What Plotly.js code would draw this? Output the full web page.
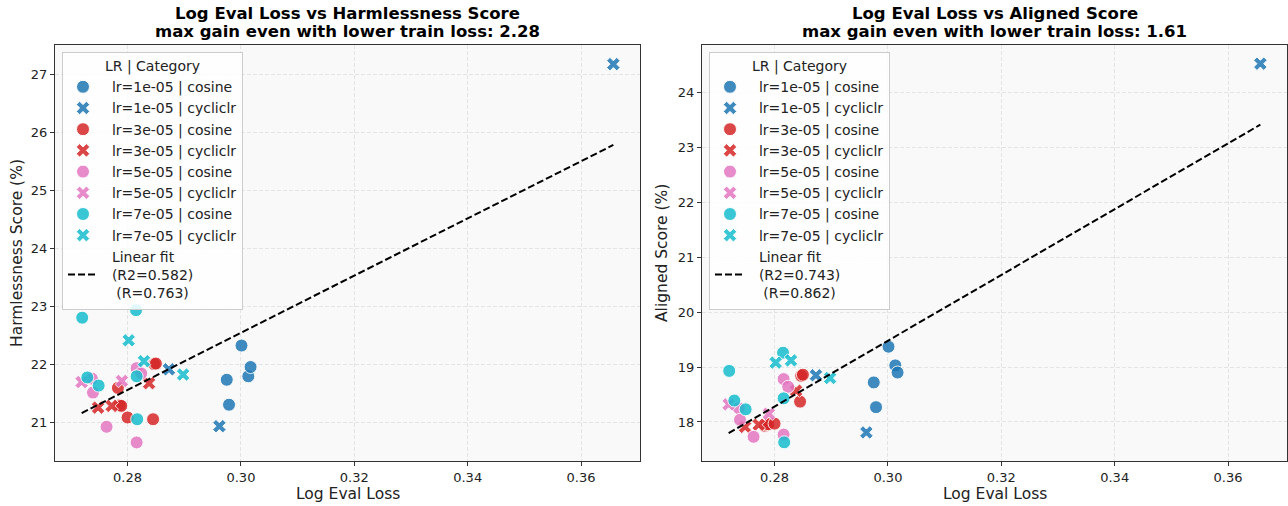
<!DOCTYPE html>
<html>
<head>
<meta charset="utf-8">
<script src="https://cdn.plot.ly/plotly-3.0.1.min.js"></script>
<style>html,body{margin:0;padding:0;background:#fff;}#chart{width:1288px;height:506px;}</style>
</head>
<body>
<div id="chart"></div>
<script>
// ---- data ----
const groupNames = ['lr=1e-05 | cosine','lr=1e-05 | cycliclr','lr=3e-05 | cosine','lr=3e-05 | cycliclr',
                    'lr=5e-05 | cosine','lr=5e-05 | cycliclr','lr=7e-05 | cosine','lr=7e-05 | cycliclr'];
const groupColors = ['rgb(31,119,180)','rgb(31,119,180)','rgb(214,39,40)','rgb(214,39,40)',
                     'rgb(227,119,194)','rgb(227,119,194)','rgb(23,190,207)','rgb(23,190,207)'];
const groupSymbols = ['circle','x','circle','x','circle','x','circle','x'];

const lossLr1Cos   = [0.3001, 0.3013, 0.3017, 0.2975, 0.2979];
const harmLr1Cos   = [22.32, 21.79, 21.95, 21.73, 21.30];
const alignLr1Cos  = [19.37, 19.03, 18.90, 18.72, 18.27];

const lossLr1Cyc   = [0.2962, 0.2873, 0.3657];
const harmLr1Cyc   = [20.93, 21.91, 27.17];
const alignLr1Cyc  = [17.81, 18.85, 24.52];

const lossLr3Cos   = [0.2847, 0.2850, 0.2783, 0.2786, 0.2789, 0.2800, 0.2845];
const harmLr3Cos   = [22.00, 22.01, 21.59, 21.29, 21.28, 21.08, 21.05];
const alignLr3Cos  = [18.84, 18.86, 17.93, 17.95, 17.96, 17.97, 18.37];

const lossLr3Cyc   = [0.2748, 0.2772, 0.2838];
const harmLr3Cyc   = [21.25, 21.28, 21.67];
const alignLr3Cyc  = [17.91, 17.95, 18.57];

const lossLr5Cos   = [0.2737, 0.2739, 0.2763, 0.2816, 0.2816, 0.2824];
const harmLr5Cos   = [21.75, 21.51, 20.92, 21.93, 20.65, 21.84];
const alignLr5Cos  = [18.25, 18.04, 17.73, 18.78, 17.77, 18.64];

const lossLr5Cyc   = [0.2719, 0.2790];
const harmLr5Cyc   = [21.69, 21.71];
const alignLr5Cyc  = [18.32, 18.15];

const lossLr7Cos   = [0.2720, 0.2729, 0.2749, 0.2815, 0.2816, 0.2817];
const harmLr7Cos   = [22.80, 21.77, 21.63, 22.93, 21.79, 21.05];
const alignLr7Cos  = [18.93, 18.39, 18.23, 19.26, 18.43, 17.63];

const lossLr7Cyc   = [0.2802, 0.2829, 0.2898];
const harmLr7Cyc   = [22.41, 22.05, 21.82];
const alignLr7Cyc  = [19.08, 19.12, 18.80];

const xTicks = [0.28, 0.30, 0.32, 0.34, 0.36];
const fitLabels = [['Linear fit','(R2=0.582)',' (R=0.763)'], ['Linear fit','(R2=0.743)',' (R=0.862)']];
const titles = [['Log Eval Loss vs Harmlessness Score','max gain even with lower train loss: 2.28'],
                ['Log Eval Loss vs Aligned Score','max gain even with lower train loss: 1.61']];
const yTitles = ['Harmlessness Score (%)','Aligned Score (%)'];
const xTitle = 'Log Eval Loss';
const legendTitle = 'LR | Category';

const lossGroups  = [lossLr1Cos, lossLr1Cyc, lossLr3Cos, lossLr3Cyc, lossLr5Cos, lossLr5Cyc, lossLr7Cos, lossLr7Cyc];
const harmGroups  = [harmLr1Cos, harmLr1Cyc, harmLr3Cos, harmLr3Cyc, harmLr5Cos, harmLr5Cyc, harmLr7Cos, harmLr7Cyc];
const alignGroups = [alignLr1Cos, alignLr1Cyc, alignLr3Cos, alignLr3Cyc, alignLr5Cos, alignLr5Cyc, alignLr7Cos, alignLr7Cyc];

// ---- build ----
const W = 1288, H = 506;
const FONT = 'DejaVu Sans, sans-serif';
const PAD = '\u00a0\u00a0';
function px(x){return x / W;}
function py(y){return 1 - y / H;}
function nb(s){return s.replace(/ /g, '\u00a0');}

function fit(xs, ys){
  const n = xs.length;
  let mx = 0, my = 0;
  for (let i=0;i<n;i++){mx+=xs[i];my+=ys[i];}
  mx/=n; my/=n;
  let sxy=0, sxx=0;
  for (let i=0;i<n;i++){sxy+=(xs[i]-mx)*(ys[i]-my); sxx+=(xs[i]-mx)*(xs[i]-mx);}
  const b = sxy/sxx, a = my - b*mx;
  const x0 = Math.min(...xs), x1 = Math.max(...xs);
  return {x:[x0,x1], y:[a+b*x0, a+b*x1]};
}

const traces = [];
[harmGroups, alignGroups].forEach((scoreGroups, p) => {
  const xa = p === 0 ? 'x' : 'x2';
  const ya = p === 0 ? 'y' : 'y2';
  const lg = p === 0 ? 'legend' : 'legend2';
  let allX = [], allY = [];
  groupNames.forEach((name, g) => {
    allX = allX.concat(lossGroups[g]);
    allY = allY.concat(scoreGroups[g]);
    traces.push({
      type:'scatter', mode:'markers', x: lossGroups[g], y: scoreGroups[g],
      xaxis: xa, yaxis: ya, legend: lg, name: PAD + nb(name),
      marker: {symbol: groupSymbols[g], color: groupColors[g], opacity: 0.85,
               size: groupSymbols[g] === 'x' ? 12 : 13, line:{color:'white', width:1}},
      hoverinfo:'skip'
    });
  });
  const f = fit(allX, allY);
  traces.push({
    type:'scatter', mode:'lines', x: f.x, y: f.y, xaxis: xa, yaxis: ya, legend: lg,
    name: fitLabels[p].map(s => PAD + nb(s)).join('<br>'),
    line:{color:'black', width:2, dash:'7px,3px'}, hoverinfo:'skip'
  });
});

const axisCommon = {
  showline:true, mirror:true, linecolor:'#333', linewidth:1.2,
  ticks:'outside', ticklen:4, tickwidth:1, tickcolor:'#333',
  showgrid:true, gridcolor:'#dedede', gridwidth:0.8, griddash:'4px,2px',
  zeroline:false, tickfont:{family:FONT, size:13, color:'#222'}, automargin:false
};

const xl = [55, 640], xr = [702, 1287], yd = [py(461), py(45)];

function legendBox(xPix){
  return {x:px(xPix), y:py(52), xanchor:'left', yanchor:'top', bgcolor:'rgba(255,255,255,0.85)',
          bordercolor:'#cccccc', borderwidth:1, font:{family:FONT,size:14,color:'#222'},
          title:{text:legendTitle, side:'top center', font:{family:FONT,size:14,color:'#222'}}};
}

const layout = {
  width: W, height: H,
  margin:{l:0,r:0,t:0,b:0},
  paper_bgcolor:'white', plot_bgcolor:'#f9f9f9',
  font:{family:FONT, size:14, color:'#222'},
  showlegend:true,
  xaxis: Object.assign({}, axisCommon, {domain:[px(xl[0]),px(xl[1])], range:[0.2672,0.3704], tickvals:xTicks, tickformat:'.2f', anchor:'y'}),
  yaxis: Object.assign({}, axisCommon, {domain:yd, range:[20.33,27.5], dtick:1, anchor:'x'}),
  xaxis2: Object.assign({}, axisCommon, {domain:[px(xr[0]),px(xr[1])], range:[0.2672,0.3704], tickvals:xTicks, tickformat:'.2f', anchor:'y2'}),
  yaxis2: Object.assign({}, axisCommon, {domain:yd, range:[17.29,24.86], dtick:1, anchor:'x2'}),
  legend: legendBox(62),
  legend2: legendBox(709),
  annotations: []
};

const centers = [(xl[0]+xl[1])/2, (xr[0]+xr[1])/2];
centers.forEach((cx, p) => {
  layout.annotations.push({xref:'paper', yref:'paper', x:px(cx), y:py(14), xanchor:'center', yanchor:'middle',
    text:'<b>'+titles[p][0]+'</b>', showarrow:false, font:{family:FONT, size:16.5, color:'#000'}});
  layout.annotations.push({xref:'paper', yref:'paper', x:px(cx), y:py(32), xanchor:'center', yanchor:'middle',
    text:'<b>'+titles[p][1]+'</b>', showarrow:false, font:{family:FONT, size:16.5, color:'#000'}});
  layout.annotations.push({xref:'paper', yref:'paper', x:px(cx), y:py(494), xanchor:'center', yanchor:'middle',
    text:xTitle, showarrow:false, font:{family:FONT, size:15.5, color:'#222'}});
});
layout.annotations.push({xref:'paper', yref:'paper', x:px(17), y:py(253), xanchor:'center', yanchor:'middle',
  text:yTitles[0], textangle:-90, showarrow:false, font:{family:FONT, size:15.5, color:'#222'}});
layout.annotations.push({xref:'paper', yref:'paper', x:px(662), y:py(253), xanchor:'center', yanchor:'middle',
  text:yTitles[1], textangle:-90, showarrow:false, font:{family:FONT, size:15.5, color:'#222'}});

Plotly.newPlot('chart', traces, layout, {staticPlot:true, displayModeBar:false});
</script>
</body>
</html>
